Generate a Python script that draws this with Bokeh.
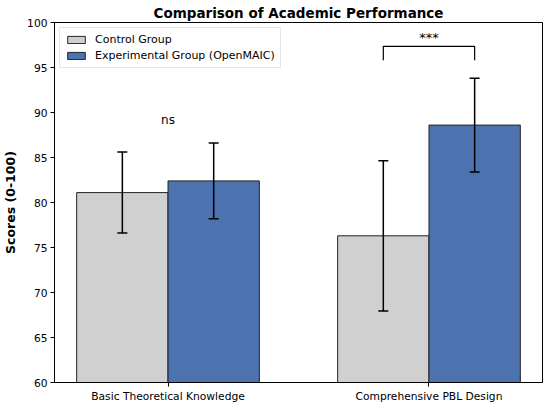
from bokeh.plotting import figure
from bokeh.models import ColumnDataSource, Range1d, FixedTicker, Whisker, Legend, LegendItem, Title, TeeHead
from bokeh.embed import file_html
from bokeh.resources import INLINE
from bokeh.core.properties import value

categories = ["Basic Theoretical Knowledge", "Comprehensive PBL Design"]
control_mean = [81.1, 76.3]
control_sd = [4.5, 8.35]
exp_mean = [82.4, 88.6]
exp_sd = [4.2, 5.2]
sig_labels = ["ns", "***"]
ns_y = 89.2
bracket_top = 97.35
bracket_leg = 95.8
star_y = 97.5

bar_w = 0.35
FONT = "DejaVu Sans"

xs = list(range(len(categories)))
cx = [x - bar_w / 2 for x in xs]
ex = [x + bar_w / 2 for x in xs]

p = figure(output_backend="svg", toolbar_location=None,
           frame_width=488, frame_height=360,
           x_range=Range1d(-0.435, 1.435), y_range=Range1d(60, 100),
           min_border_left=2, min_border_right=2, min_border_top=2, min_border_bottom=0)
p.title = Title(text="Comparison of Academic Performance", align="center",
                text_font=FONT, text_font_size="13.5px", text_font_style="bold",
                text_color="black", standoff=4)
p.background_fill_color = "white"
p.border_fill_color = "white"
p.outline_line_color = "black"
p.outline_line_width = 1
p.xgrid.visible = False
p.ygrid.visible = False

csrc = ColumnDataSource(dict(x=cx, top=control_mean, lo=[m - s for m, s in zip(control_mean, control_sd)],
                             hi=[m + s for m, s in zip(control_mean, control_sd)]))
esrc = ColumnDataSource(dict(x=ex, top=exp_mean, lo=[m - s for m, s in zip(exp_mean, exp_sd)],
                             hi=[m + s for m, s in zip(exp_mean, exp_sd)]))

r1 = p.vbar(x="x", top="top", bottom=0, width=bar_w, source=csrc,
            fill_color="#d0d0d0", line_color="#222222", line_width=1)
r2 = p.vbar(x="x", top="top", bottom=0, width=bar_w, source=esrc,
            fill_color="#4c72b0", line_color="#222222", line_width=1)

for src in (csrc, esrc):
    w = Whisker(source=src, base="x", lower="lo", upper="hi", line_color="black", line_width=1.5,
                level="overlay",
                upper_head=TeeHead(size=10, line_color="black", line_width=1.5),
                lower_head=TeeHead(size=10, line_color="black", line_width=1.5))
    p.add_layout(w)

# ns label over first group
p.text(x=[xs[0]], y=[ns_y], text=[sig_labels[0]], text_align="center", text_baseline="middle",
       text_font=value(FONT), text_font_size="12px", text_color="black")

# significance bracket over second group
p.line(x=[cx[1], cx[1], ex[1], ex[1]], y=[bracket_leg, bracket_top, bracket_top, bracket_leg],
       line_color="black", line_width=1.2)
p.text(x=[xs[1]], y=[star_y], text=[sig_labels[1]], text_align="center", text_baseline="bottom",
       text_font=value(FONT), text_font_size="13px", text_color="black")

p.xaxis.ticker = FixedTicker(ticks=xs)
p.xaxis.major_label_overrides = {i: c for i, c in enumerate(categories)}
p.yaxis.ticker = FixedTicker(ticks=[60, 65, 70, 75, 80, 85, 90, 95, 100])
for ax in (p.xaxis[0], p.yaxis[0]):
    ax.major_label_text_font = FONT
    ax.major_label_text_font_size = "10.7px"
    ax.major_label_text_color = "black"
    ax.axis_line_color = "black"
    ax.major_tick_line_color = "black"
    ax.major_tick_in = 0
    ax.major_tick_out = 4
    ax.minor_tick_line_color = None
    ax.major_label_standoff = 3
p.yaxis.axis_label = "Scores (0-100)"
p.yaxis.axis_label_text_font = FONT
p.yaxis.axis_label_text_font_size = "12.5px"
p.yaxis.axis_label_text_font_style = "bold"
p.yaxis.axis_label_text_color = "black"
p.yaxis.axis_label_standoff = 6

legend = Legend(items=[LegendItem(label="Control Group", renderers=[r1]),
                       LegendItem(label="Experimental Group (OpenMAIC)", renderers=[r2])],
                location="top_left", label_text_font=FONT, label_text_font_size="11px",
                label_text_color="black",
                border_line_color="#cccccc", border_line_width=1, background_fill_alpha=0.9,
                glyph_width=22, glyph_height=9, label_height=13, spacing=3, padding=5,
                margin=5, label_standoff=8)
p.add_layout(legend)

open("out.html", "w").write(file_html(p, INLINE))
